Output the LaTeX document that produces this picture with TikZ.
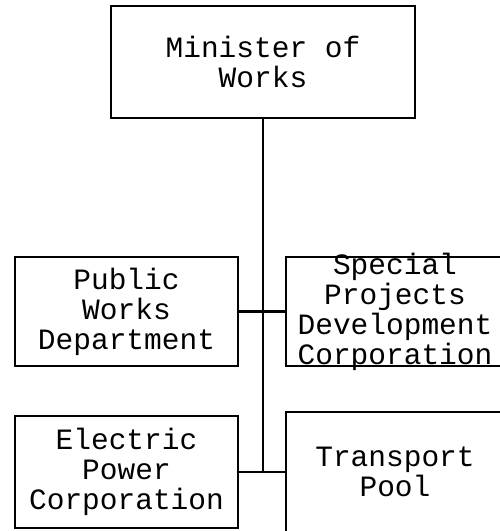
\documentclass[tikz,border=0pt]{standalone}
\usepackage{fontspec}
\setmonofont{Liberation Mono}
\usetikzlibrary{positioning}

\begin{document}
\begin{tikzpicture}[x=0.5pt,y=-0.5pt, every node/.style={font=\ttfamily\fontsize{14.75}{15}\selectfont,align=center}, box/.style={draw,line width=1.1pt,inner sep=0pt}, link/.style={line width=1.1pt}]
\useasboundingbox (0,0) rectangle (499,531);
\node[box,minimum width=152pt,minimum height=56pt] (mow) at (263,62) {Minister of\\Works};
\node[box,minimum width=111.5pt,minimum height=54.5pt] (pwd) at (126.5,311.5) {Public\\Works\\Department};
\node[box,minimum width=109pt,minimum height=54.5pt,inner ysep=-2pt] (spdc) at (395,311.5) {Special\\Projects\\Development\\Corporation};
\node[box,minimum width=111.5pt,minimum height=56pt] (epc) at (126.5,472) {Electric\\Power\\Corporation};
\node[box,minimum width=109pt,minimum height=60pt] (tp) at (395,472) {Transport\\Pool};
\coordinate (j2) at (mow.south |- epc.east);
\draw[link] (mow.south) -- (j2);
\draw[link] (pwd.east) -- (spdc.west);
\draw[link] (epc.east) -- (tp.west);
\end{tikzpicture}
\end{document}
